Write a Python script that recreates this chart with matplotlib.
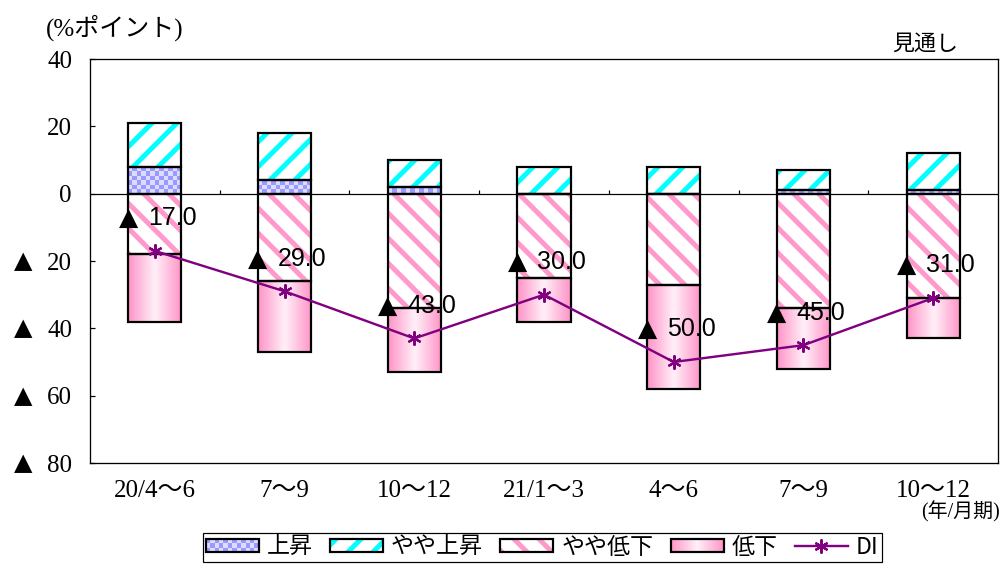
import numpy as np
import matplotlib
matplotlib.use("Agg")
import matplotlib.pyplot as plt
from matplotlib.patches import Rectangle
from matplotlib.lines import Line2D
from matplotlib.legend_handler import HandlerBase
from matplotlib.colors import ListedColormap, to_rgb
import matplotlib.transforms as mtransforms

# ---------------- data ----------------
categories = ['20/4～6', '7～9', '10～12', '21/1～3', '4～6', '7～9', '10～12']
up = [8, 4, 2, 0, 0, 1, 1]                  # 上昇
slightly_up = [13, 14, 8, 8, 8, 6, 11]      # やや上昇
slightly_down = [18, 26, 34, 25, 27, 34, 31]  # やや低下 (drawn downward)
down = [20, 21, 19, 13, 31, 18, 12]         # 低下 (drawn downward)
di = [-17.0, -29.0, -43.0, -30.0, -50.0, -45.0, -31.0]
series_names = ['上昇', 'やや上昇', 'やや低下', '低下', 'DI']
ytick_values = [-80, -60, -40, -20, 0, 20, 40]
ytick_labels = ['▲ 80', '▲ 60', '▲ 40', '▲ 20', '0', '20', '40']
unit_label = '(%ポイント)'
forecast_label = '見通し'
period_label = '(年/月期)'

# ---------------- styling ----------------
DPI = 75
W, H = 1003, 565
def px(v):
    return v * 72.0 / DPI

SERIF = ['Liberation Serif', 'Noto Sans CJK JP', 'DejaVu Sans']
JP = ['Noto Sans CJK JP', 'DejaVu Sans']
LBL = ['Liberation Sans', 'DejaVu Sans']
lbl_size = px(25)
plt.rcParams['font.family'] = JP
plt.rcParams['hatch.linewidth'] = px(5)

CYAN = '#00ffff'
PINK = '#ff99cc'
LAV = '#9999ff'
LAV2 = '#dcdcff'
PURPLE = '#800080'
EDGE_LW = px(2.2)

fig = plt.figure(figsize=(W / DPI, H / DPI), dpi=DPI)
ax = fig.add_axes([90 / W, 1 - 463 / H, (998 - 90) / W, (463 - 59) / H])
x = np.arange(len(categories))
bw = 0.41
ax.set_xlim(-0.5, len(categories) - 0.5)
ax.set_ylim(-80, 40)
ax.set_autoscale_on(False)

up_a = np.array(up, float)
sup_a = np.array(slightly_up, float)
sd_a = np.array(slightly_down, float)
dn_a = np.array(down, float)

px_per_x = (998 - 90) / len(categories)
px_per_y = (463 - 59) / 120.0

# 上昇 : checker pattern
bars_up = ax.bar(x, up_a, bw, bottom=0, facecolor='white', edgecolor='none', zorder=2)
checker_cmap = ListedColormap([LAV2, LAV])
for r in bars_up:
    h = r.get_height()
    if h <= 0:
        continue
    x0, y0, w = r.get_x(), r.get_y(), r.get_width()
    nx = max(1, int(round(w * px_per_x / 4.5)))
    ny = max(1, int(round(h * px_per_y / 4.5)))
    arr = (np.add.outer(np.arange(ny), np.arange(nx)) % 2).astype(float)
    im = ax.imshow(arr, extent=(x0, x0 + w, y0, y0 + h), cmap=checker_cmap,
                   interpolation='nearest', aspect='auto', zorder=2, vmin=0, vmax=1)
    im.set_clip_path(r)
ax.bar(x, up_a, bw, bottom=0, fill=False, edgecolor='black', lw=EDGE_LW, zorder=3)

# やや上昇 : cyan stripes
ax.bar(x, sup_a, bw, bottom=up_a, facecolor='white', edgecolor=CYAN, hatch='/', lw=0, zorder=2)
ax.bar(x, sup_a, bw, bottom=up_a, fill=False, edgecolor='black', lw=EDGE_LW, zorder=3)

# やや低下 : pink stripes
ax.bar(x, -sd_a, bw, bottom=0, facecolor='white', edgecolor=PINK, hatch='\\', lw=0, zorder=2)
ax.bar(x, -sd_a, bw, bottom=0, fill=False, edgecolor='black', lw=EDGE_LW, zorder=3)

# 低下 : pink gradient
edge_c = np.array(to_rgb('#ff94c8'))
cent_c = np.array(to_rgb('#fff0f8'))
u = np.linspace(0, 1, 64)
t = np.abs(u - 0.5) * 2
grad = (cent_c[None, :] * (1 - t[:, None]) + edge_c[None, :] * t[:, None])[None, :, :]
bars_dn = ax.bar(x, -dn_a, bw, bottom=-sd_a, facecolor='white', edgecolor='none', zorder=2)
for r in bars_dn:
    x0, y0, w, h = r.get_x(), r.get_y(), r.get_width(), r.get_height()
    im = ax.imshow(grad, extent=(x0, x0 + w, y0 + h, y0), interpolation='bilinear',
                   aspect='auto', zorder=2)
    im.set_clip_path(r)
ax.bar(x, -dn_a, bw, bottom=-sd_a, fill=False, edgecolor='black', lw=EDGE_LW, zorder=3)

# zero line and category-boundary ticks
ax.axhline(0, color='black', lw=px(1.2), zorder=1)
ax.vlines(x[:-1] + 0.5, 0, 4 / px_per_y, color='black', lw=px(1.2), zorder=1)

# DI line
ax.plot(x, di, color=PURPLE, lw=px(2.4), marker=(6, 2, 0), ms=px(14), mew=px(2.2),
        mec=PURPLE, zorder=5)

# DI labels
for i, v in enumerate(di):
    yl = v + 9.7
    if v < 0:
        ax.text(i - 0.205, yl, '▲', fontsize=px(25), family=['DejaVu Sans'],
                ha='center', va='center', zorder=6)
    ax.text(i - 0.055, yl, f'{abs(v):.1f}', fontsize=lbl_size, family=LBL,
            ha='left', va='center', zorder=6)

# axes styling
for s in ax.spines.values():
    s.set_linewidth(px(1.3))
    s.set_color('black')
ax.set_xticks(x)
ax.set_xticklabels(categories)
ax.tick_params(axis='x', length=0, pad=px(17))
ax.set_yticks(ytick_values)
ax.set_yticklabels([lab.replace('▲', '').strip() for lab in ytick_labels])
ax.tick_params(axis='y', direction='in', length=px(5), width=px(1.2), pad=px(18))
for lab in ax.get_xticklabels():
    lab.set_fontfamily(SERIF)
    lab.set_fontsize(px(25))
for lab in ax.get_yticklabels():
    lab.set_fontfamily(SERIF)
    lab.set_fontsize(px(25))
tri_tr = mtransforms.blended_transform_factory(fig.transFigure, ax.transData)
for v, lab in zip(ytick_values, ytick_labels):
    if lab.startswith('▲'):
        ax.text(23 / W, v, '▲', transform=tri_tr, fontsize=px(24), family=['DejaVu Sans'],
                ha='center', va='center', clip_on=False)

# texts
fig.text(46 / W, 1 - 28 / H, unit_label, fontsize=px(25), family=SERIF, ha='left', va='center')
fig.text(925 / W, 1 - 44 / H, forecast_label, fontsize=px(22), ha='center', va='center')
fig.text(1000 / W, 1 - 512 / H, period_label, fontsize=px(20), family=SERIF, ha='right', va='center')

# legend
class FuncHandler(HandlerBase):
    def __init__(self, func):
        super().__init__()
        self.func = func

    def create_artists(self, legend, orig_handle, xdescent, ydescent, width, height, fontsize, trans):
        return self.func(-xdescent, -ydescent, width, height, trans)

def border(x0, y0, w, h, trans):
    return Rectangle((x0, y0), w, h, fill=False, edgecolor='black', lw=EDGE_LW, transform=trans)

def make_checker(x0, y0, w, h, trans):
    arts = [Rectangle((x0, y0), w, h, facecolor=LAV2, lw=0, transform=trans)]
    nx, ny = 12, 3
    for i in range(nx):
        for j in range(ny):
            if (i + j) % 2 == 0:
                arts.append(Rectangle((x0 + i * w / nx, y0 + j * h / ny), w / nx, h / ny,
                                      facecolor=LAV, lw=0, transform=trans))
    arts.append(border(x0, y0, w, h, trans))
    return arts

def make_hatch(color, hatch):
    def f(x0, y0, w, h, trans):
        return [Rectangle((x0, y0), w, h, facecolor='white', edgecolor=color, hatch=hatch,
                          lw=0, transform=trans), border(x0, y0, w, h, trans)]
    return f

def make_grad(x0, y0, w, h, trans):
    arts = []
    n = 40
    for k in range(n):
        tt = abs((k + 0.5) / n - 0.5) * 2
        c = cent_c * (1 - tt) + edge_c * tt
        arts.append(Rectangle((x0 + k * w / n, y0), w / n * 1.05, h, facecolor=c, lw=0,
                              transform=trans))
    arts.append(border(x0, y0, w, h, trans))
    return arts

h_di = Line2D([], [], color=PURPLE, lw=px(2.4), marker=(6, 2, 0), ms=px(14), mew=px(2.2))

class H1: pass
class H2: pass
class H3: pass
class H4: pass
hu, hs, hd, hn = H1(), H2(), H3(), H4()
handler_map = {H1: FuncHandler(make_checker), H2: FuncHandler(make_hatch(CYAN, '/')),
               H3: FuncHandler(make_hatch(PINK, '\\')), H4: FuncHandler(make_grad)}
leg_fs = px(23)
leg = fig.legend([hu, hs, hd, hn, h_di], series_names, handler_map=handler_map,
                 loc='upper left', bbox_to_anchor=(203 / W, 1 - 533 / H), ncol=5,
                 frameon=True, fancybox=False, edgecolor='black', framealpha=1,
                 fontsize=leg_fs, handlelength=53 / 23, handleheight=0.52,
                 handletextpad=0.35, columnspacing=0.75, borderpad=0.12, borderaxespad=0)
leg.get_frame().set_linewidth(px(1.2))

fig.savefig('out.png', dpi=DPI)
